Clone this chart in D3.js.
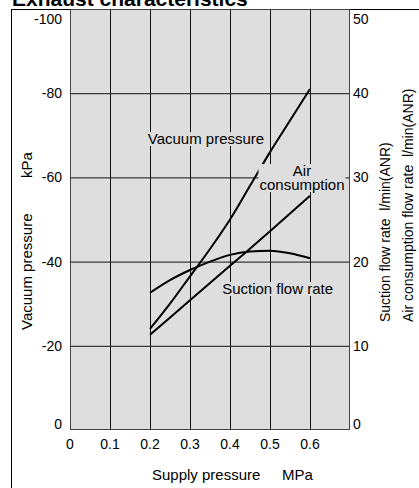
<!DOCTYPE html>
<html>
<head>
<meta charset="utf-8">
<script src="https://cdn.jsdelivr.net/npm/d3@7"></script>
<style>
    body { margin: 0; background: #fff; }
    svg { display: block; font-family: Arial, "Liberation Sans", sans-serif; }
    text { white-space: pre; }
</style>
</head>
<body>
<div id="chart"></div>
<script>
    // supply pressure (MPa) ticks
    const xTicks = [0, 0.1, 0.2, 0.3, 0.4, 0.5, 0.6];
    const vacuumTicks = [0, -20, -40, -60, -80, -100];
    const flowTicks = [0, 10, 20, 30, 40, 50];

    // vacuum pressure kPa (left axis)
    const vacuumX = [0.2, 0.25, 0.3, 0.35, 0.4, 0.45, 0.5, 0.55, 0.6];
    const vacuumY = [-24, -30, -36.5, -43, -50, -58, -66, -73.5, -81];

    // air consumption l/min(ANR) (right axis)
    const airX = [0.2, 0.3, 0.4, 0.5, 0.6];
    const airY = [11.3, 15.4, 19.5, 23.6, 27.8];

    // suction flow rate l/min(ANR) (right axis)
    const suctionX = [0.2, 0.25, 0.3, 0.35, 0.4, 0.45, 0.5, 0.55, 0.6];
    const suctionY = [16.3, 17.8, 19.0, 20.0, 20.8, 21.2, 21.3, 21.0, 20.4];

    const margins = { top: 9, left: 70, right: 69, bottom: 58 };
    const W = 419, H = 488;
    const width = W - margins.left - margins.right;
    const height = H - margins.top - margins.bottom;

    const svg = d3.select('#chart')
        .append('svg')
        .attr('width', W)
        .attr('height', H);

    //title (cut off at the top)
    svg.append('text')
        .attr('x', 12)
        .attr('y', 5.5)
        .style('font-size', '21px')
        .style('font-weight', 'bold')
        .text('Exhaust characteristics');

    //frame
    svg.append('rect')
        .attr('x', 11.5)
        .attr('y', 9.5)
        .attr('width', 440)
        .attr('height', 500)
        .attr('fill', 'none')
        .attr('stroke', '#000')
        .attr('stroke-width', 1);

    const chart = svg.append('g')
        .attr('transform', `translate(${margins.left},${margins.top})`);

    //scales
    const x = d3.scaleLinear().domain([0, 0.7]).range([0, width]);
    const yL = d3.scaleLinear().domain([0, -100]).range([height, 0]);
    const yR = d3.scaleLinear().domain([0, 50]).range([height, 0]);

    //background
    chart.append('rect')
        .attr('width', width)
        .attr('height', height)
        .attr('fill', '#dedede');

    //grid lines
    chart.append('g')
        .attr('transform', `translate(0,${height})`)
        .call(d3.axisBottom(x).tickValues(xTicks.slice(1)).tickSize(-height).tickFormat(''))
        .call(g => g.select('.domain').remove())
        .call(g => g.selectAll('line').attr('stroke', '#111'));
    chart.append('g')
        .call(d3.axisLeft(yL).tickValues(vacuumTicks.slice(1, -1)).tickSize(-width).tickFormat(''))
        .call(g => g.select('.domain').remove())
        .call(g => g.selectAll('line').attr('stroke', '#111'));

    //border
    chart.append('rect')
        .attr('x', 0.5)
        .attr('y', 0.5)
        .attr('width', width - 1)
        .attr('height', height - 1)
        .attr('fill', 'none')
        .attr('stroke', '#444');

    //tick labels
    const fs = '14px';
    const lfs = '15px';
    chart.append('g')
        .selectAll('text')
        .data(xTicks)
        .join('text')
        .attr('x', d => x(d))
        .attr('y', height + 19)
        .attr('text-anchor', 'middle')
        .style('font-size', fs)
        .text(d => d);
    chart.append('g')
        .selectAll('text')
        .data(vacuumTicks)
        .join('text')
        .attr('x', -8)
        .attr('y', d => Math.max(yL(d), 10))
        .attr('dy', d => d === 0 ? '-0.1em' : '0.35em')
        .attr('text-anchor', 'end')
        .style('font-size', fs)
        .text(d => d);
    chart.append('g')
        .selectAll('text')
        .data(flowTicks)
        .join('text')
        .attr('x', width + 3)
        .attr('y', d => Math.max(yR(d), 10))
        .attr('dy', d => d === 0 ? '-0.1em' : '0.35em')
        .style('font-size', fs)
        .text(d => d);

    //axis titles
    chart.append('text')
        .attr('transform', `translate(-38,${yL(-24) + 1}) rotate(-90)`)
        .style('font-size', lfs)
        .text('Vacuum pressure');
    chart.append('text')
        .attr('transform', `translate(-38,${yL(-66)}) rotate(-90)`)
        .attr('text-anchor', 'end')
        .style('font-size', lfs)
        .text('kPa');
    chart.append('text')
        .attr('transform', `translate(${width + 40},${height - 108}) rotate(-90)`)
        .style('font-size', fs)
        .text('Suction flow rate  l/min(ANR)');
    chart.append('text')
        .attr('transform', `translate(${width + 63},${height - 108}) rotate(-90)`)
        .style('font-size', fs)
        .text('Air consumption flow rate  l/min(ANR)');
    chart.append('text')
        .attr('x', x(0.205))
        .attr('y', height + 50)
        .style('font-size', lfs)
        .text('Supply pressure');
    chart.append('text')
        .attr('x', x(0.607))
        .attr('y', height + 50)
        .attr('text-anchor', 'end')
        .style('font-size', lfs)
        .text('MPa');

    //lines
    const draw = (xs, ys, yScale) => {
        const line = d3.line()
            .x(d => x(d[0]))
            .y(d => yScale(d[1]))
            .curve(d3.curveMonotoneX);
        chart.append('path')
            .datum(xs.map((v, i) => [v, ys[i]]))
            .attr('d', line)
            .attr('fill', 'none')
            .attr('stroke', '#000')
            .attr('stroke-width', 2);
    };
    draw(vacuumX, vacuumY, yL);
    draw(airX, airY, yR);
    draw(suctionX, suctionY, yR);

    //series labels with plot-coloured backing
    const label = (lines, cx, cy) => {
        const g = chart.append('g');
        lines.forEach((s, i) => {
            g.append('text')
                .attr('x', cx)
                .attr('y', cy + i * 14)
                .attr('text-anchor', 'middle')
                .style('font-size', lfs)
                .text(s);
        });
        const b = g.node().getBBox();
        g.insert('rect', 'text')
            .attr('x', b.x - 1)
            .attr('y', b.y + 2)
            .attr('width', b.width + 2)
            .attr('height', b.height - 3)
            .attr('fill', '#dedede');
    };
    label(['Vacuum pressure'], x(0.34), yL(-69.1) + 5);
    label(['Air', 'consumption'], x(0.58), yL(-61.5) + 5);
    label(['Suction flow rate'], x(0.519), yL(-33.5) + 5);
</script>
</body>
</html>
